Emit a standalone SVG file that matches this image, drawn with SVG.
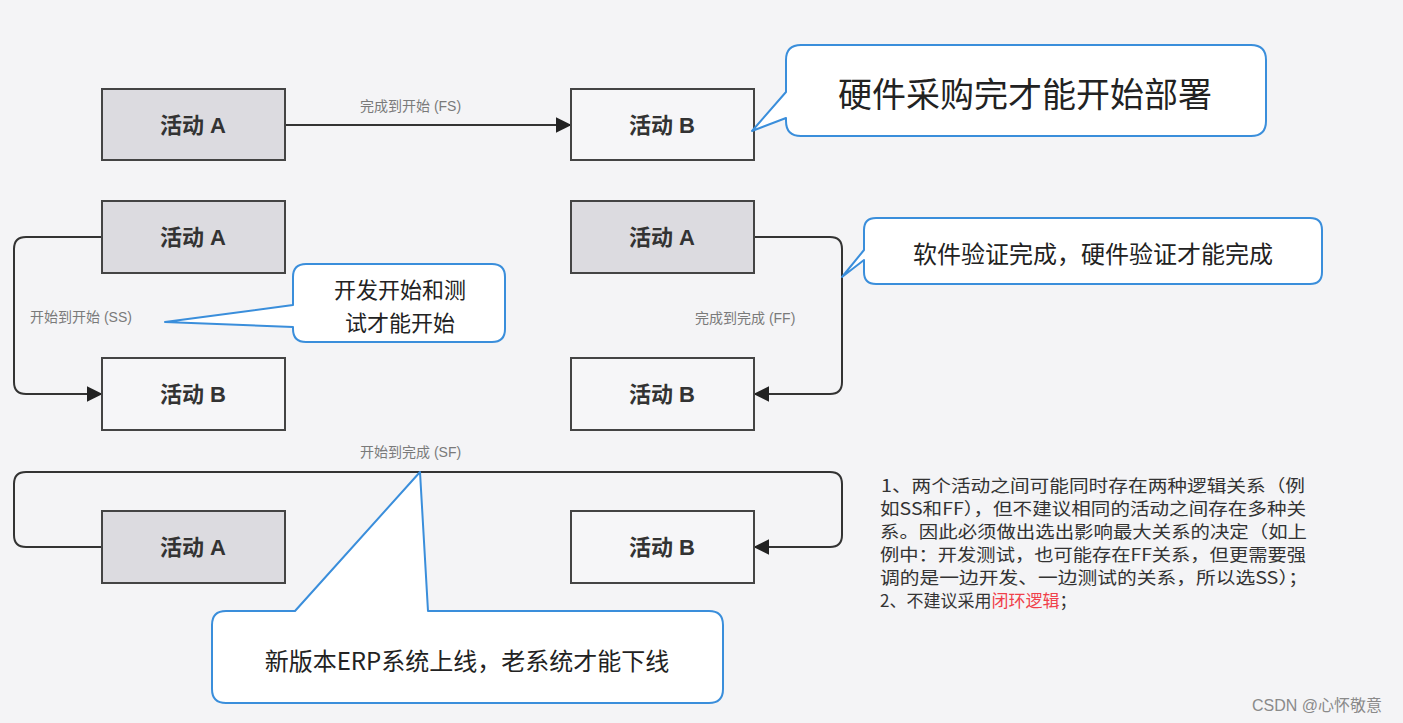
<svg xmlns="http://www.w3.org/2000/svg" width="1403" height="723" viewBox="0 0 1403 723">
<defs>
<marker id="arr" viewBox="0 0 10 10" refX="9" refY="5" markerWidth="16" markerHeight="16" markerUnits="userSpaceOnUse" orient="auto">
<path d="M0,0 L10,5 L0,10 z" fill="#222"/>
</marker>
<style>
.boxA{fill:#dcdbe0;stroke:#444;stroke-width:2}
.boxB{fill:#f6f6f8;stroke:#444;stroke-width:2}
.bt{font-family:"Liberation Sans","Noto Sans CJK SC",sans-serif;font-size:22px;font-weight:bold;fill:#333;text-anchor:middle;dominant-baseline:central}
.conn{fill:none;stroke:#333;stroke-width:2}
.lbl{font-family:"Liberation Sans","Noto Sans CJK SC",sans-serif;font-size:14px;fill:#7a7a7a}
.call{fill:#fff;stroke:#3a8edb;stroke-width:2;stroke-linejoin:round}
.ct{font-family:"Noto Sans CJK SC",sans-serif;fill:#222;text-anchor:middle;dominant-baseline:central}
.note{font-family:"Noto Sans CJK SC",sans-serif;font-size:17px;fill:#333}
</style>
</defs>
<rect width="1403" height="723" fill="#f4f4f6"/>

<g id="connectors">
<line class="conn" x1="285" y1="125" x2="570" y2="125" marker-end="url(#arr)"/>
<path class="conn" d="M102,237 H26 Q14,237 14,249 V382 Q14,394 26,394 H101" marker-end="url(#arr)"/>
<path class="conn" d="M754,237 H830 Q842,237 842,249 V382 Q842,394 830,394 H755" marker-end="url(#arr)"/>
<path class="conn" d="M102,547 H26 Q14,547 14,535 V484 Q14,472 26,472 H830 Q842,472 842,484 V535 Q842,547 830,547 H755" marker-end="url(#arr)"/>
<text class="lbl" x="360" y="111">完成到开始 (FS)</text>
<text class="lbl" x="30" y="322">开始到开始 (SS)</text>
<text class="lbl" x="695" y="323">完成到完成 (FF)</text>
<text class="lbl" x="360" y="457">开始到完成 (SF)</text>
</g>

<g id="fs-a"><rect class="boxA" x="102" y="89" width="183" height="71"/><text class="bt" x="193" y="125">活动 A</text></g>
<g id="fs-b"><rect class="boxB" x="571" y="89" width="183" height="71"/><text class="bt" x="662" y="125">活动 B</text></g>
<g id="ss-a"><rect class="boxA" x="102" y="201" width="183" height="72"/><text class="bt" x="193" y="237">活动 A</text></g>
<g id="ss-b"><rect class="boxB" x="102" y="358" width="183" height="72"/><text class="bt" x="193" y="394">活动 B</text></g>
<g id="ff-a"><rect class="boxA" x="571" y="201" width="183" height="72"/><text class="bt" x="662" y="237">活动 A</text></g>
<g id="ff-b"><rect class="boxB" x="571" y="358" width="183" height="72"/><text class="bt" x="662" y="394">活动 B</text></g>
<g id="sf-a"><rect class="boxA" x="102" y="511" width="183" height="72"/><text class="bt" x="193" y="547">活动 A</text></g>
<g id="sf-b"><rect class="boxB" x="571" y="511" width="183" height="72"/><text class="bt" x="662" y="547">活动 B</text></g>

<g id="callout-fs">
<path class="call" d="M801,45 H1251 Q1266,45 1266,60 V121 Q1266,136 1251,136 H801 Q786,136 786,121 V118 L752,131 L786,92 V60 Q786,45 801,45 z"/>
<text class="ct" x="1025" y="92" font-size="34">硬件采购完才能开始部署</text>
</g>
<g id="callout-ss">
<path class="call" d="M306,264 H492 Q505,264 505,277 V329 Q505,342 492,342 H306 Q293,342 293,329 V327 L165,322 L293,305 V277 Q293,264 306,264 z"/>
<text class="ct" x="400" y="288" font-size="22">开发开始和测</text>
<text class="ct" x="400" y="321" font-size="22">试才能开始</text>
</g>
<g id="callout-ff">
<path class="call" d="M876,218 H1310 Q1322,218 1322,230 V272 Q1322,284 1310,284 H876 Q864,284 864,272 V260 L842,277 L864,250 V230 Q864,218 876,218 z"/>
<text class="ct" x="1093" y="252" font-size="24">软件验证完成，硬件验证才能完成</text>
</g>
<g id="callout-sf">
<path class="call" d="M226,611 H295 L420,472 L428,611 H709 Q723,611 723,625 V689 Q723,703 709,703 H226 Q212,703 212,689 V625 Q212,611 226,611 z"/>
<text class="ct" x="467" y="659" font-size="24">新版本ERP系统上线，老系统才能下线</text>
</g>

<g id="notes">
<text class="note" x="881" y="492" textLength="424" lengthAdjust="spacingAndGlyphs">1、两个活动之间可能同时存在两种逻辑关系（例</text>
<text class="note" x="880" y="515" textLength="426" lengthAdjust="spacingAndGlyphs">如SS和FF），但不建议相同的活动之间存在多种关</text>
<text class="note" x="880" y="538" textLength="427" lengthAdjust="spacingAndGlyphs">系。因此必须做出选出影响最大关系的决定（如上</text>
<text class="note" x="880" y="561" textLength="426" lengthAdjust="spacingAndGlyphs">例中：开发测试，也可能存在FF关系，但更需要强</text>
<text class="note" x="880" y="584" textLength="428" lengthAdjust="spacingAndGlyphs">调的是一边开发、一边测试的关系，所以选SS）；</text>
<text class="note" x="880" y="607">2、不建议采用<tspan fill="#f0404a">闭环逻辑</tspan>；</text>
</g>

<text x="1252" y="711" font-family="Liberation Sans,'Noto Sans CJK SC',sans-serif" font-size="16" fill="#8a8a8a">CSDN @心怀敬意</text>
</svg>
